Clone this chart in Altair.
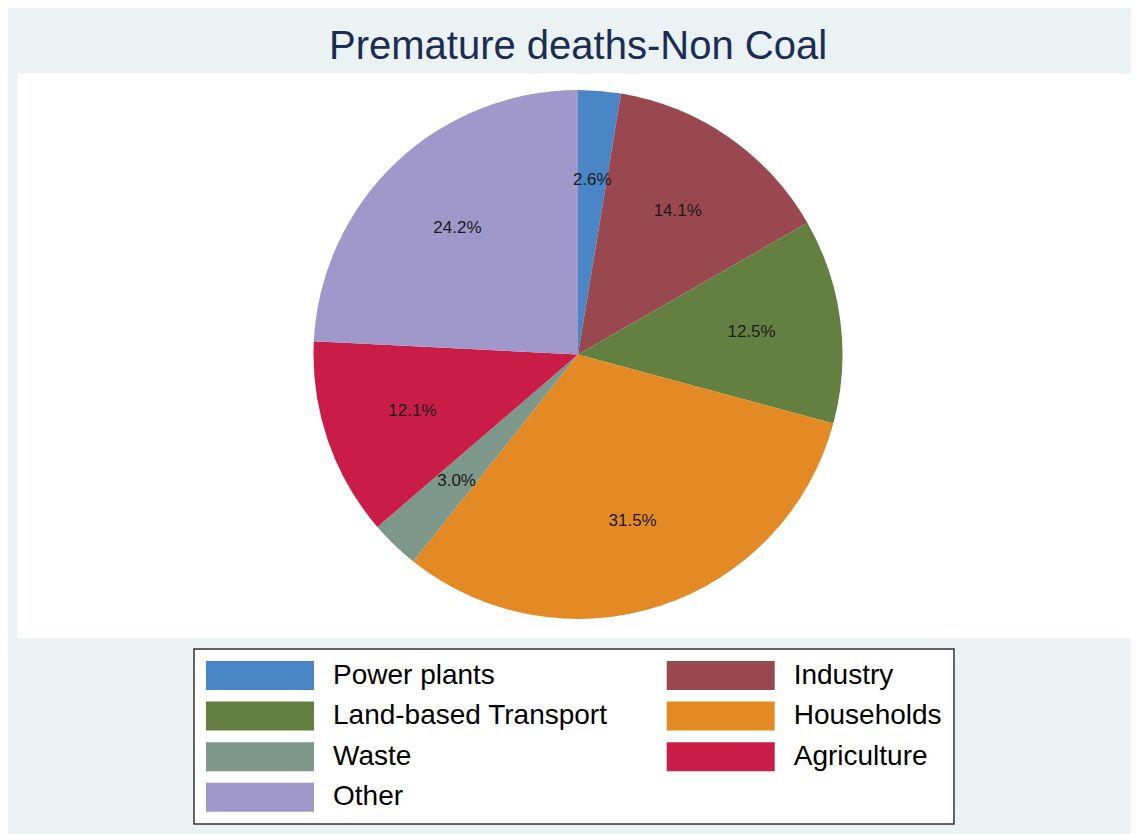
import altair as alt
import pandas as pd

categories = ["Power plants", "Industry", "Land-based Transport", "Households",
              "Waste", "Agriculture", "Other"]
shares = [2.6, 14.1, 12.5, 31.5, 3.0, 12.1, 24.2]
colors = ["#4A85C5", "#9A4850", "#648040", "#E48A25", "#7D978B", "#C91D47", "#A097CA"]

# legend fills column by column; list entries so that rows read left to right
legend_order = [0, 2, 4, 6, 1, 3, 5]
legend_domain = [categories[i] for i in legend_order]
legend_range = [colors[i] for i in legend_order]

df = pd.DataFrame({
    "category": categories,
    "share": shares,
    "idx": list(range(len(categories))),
    "label": [f"{s:.1f}%" for s in shares],
})

FONT = "Liberation Sans"
swatch = "M-3.724,-1H3.724V1H-3.724Z"

base = alt.Chart(df).encode(
    theta=alt.Theta("share:Q", stack=True),
    order=alt.Order("idx:Q"),
    x=alt.value(561),
    y=alt.value(281.5),
)

arc = base.mark_arc(outerRadius=264.5, strokeWidth=0).encode(
    color=alt.Color(
        "category:N",
        scale=alt.Scale(domain=legend_domain, range=legend_range),
        sort=legend_domain,
        legend=alt.Legend(
            orient="none", legendX=177, legendY=576, columns=2, title=None,
            symbolType=swatch, symbolSize=841, symbolOffset=39.5,
            symbolStrokeWidth=0, symbolOpacity=1,
            labelFont=FONT, labelFontSize=28, labelColor="black",
            labelOffset=58.5, labelLimit=600,
            columnPadding=58.7, rowPadding=11.6, padding=12,
            strokeColor="#333333", fillColor="white",
        ),
    )
)

text = base.mark_text(radius=175, fontSize=17, font=FONT, color="#1a1a1a").encode(
    text="label:N"
)

chart = (
    alt.layer(arc, text)
    .properties(
        width=1114,
        height=565,
        padding={"left": 9, "top": 65, "right": 0, "bottom": 196},
        autosize=alt.AutoSizeParams(type="none"),
        background="#EAF2F3",
        title=alt.TitleParams(
            "Premature deaths-Non Coal", fontSize=40, font=FONT,
            fontWeight="normal", color="#1C2D55", anchor="middle",
            offset=6, dx=4,
        ),
    )
    .configure_view(fill="white", stroke="transparent")
    .configure_legend(strokeWidth=1.5)
)

chart.save("out.html", embed_options={"renderer": "svg", "actions": False})
